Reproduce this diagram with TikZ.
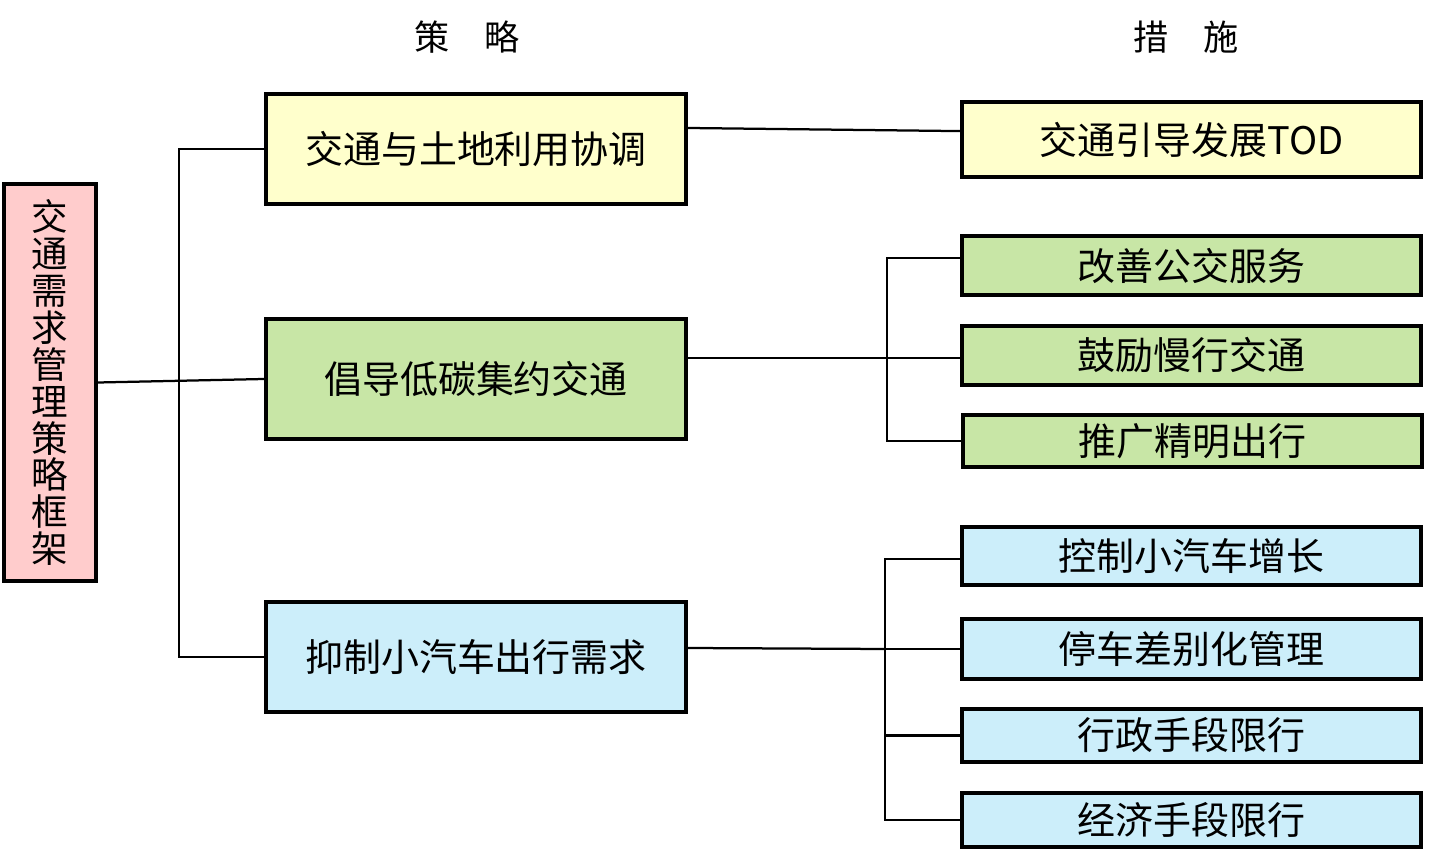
\documentclass[tikz,border=0pt]{standalone}
\usepackage{fontspec}
\setmainfont{Noto Sans CJK SC}
\definecolor{pinkbox}{HTML}{FFCCCC}
\definecolor{yellowbox}{HTML}{FFFFCC}
\definecolor{greenbox}{HTML}{C8E6A6}
\definecolor{bluebox}{HTML}{CCEEFA}
\begin{document}
\begin{tikzpicture}[x=0.025cm, y=-0.025cm,
  box/.style={draw, line width=2.9pt, inner sep=0pt, font=\fontsize{27pt}{30pt}\selectfont},
  strat/.style={box, minimum width=10.5cm},
  meas/.style={box, minimum width=11.475cm},
  link/.style={line width=1.6pt},
  head/.style={font=\fontsize{25pt}{25pt}\selectfont}]
\useasboundingbox (0,0) rectangle (1449,865);
\node [head] (hs) at (467,37) {策\hspace{1em}略};
\node [head] (hm) at (1186,37) {措\hspace{1em}施};
\node [box, fill=pinkbox, minimum width=2.3cm, minimum height=9.925cm, align=center,
  font=\fontsize{26pt}{26.3pt}\selectfont] (root) at (50,382.5) {交\\通\\需\\求\\管\\理\\策\\略\\框\\架};
\node [strat, fill=yellowbox, minimum height=2.75cm] (s1) at (476,149) {交通与土地利用协调};
\node [strat, fill=greenbox, minimum height=3cm] (s2) at (476,379) {倡导低碳集约交通};
\node [strat, fill=bluebox, minimum height=2.75cm] (s3) at (476,657) {抑制小汽车出行需求};
\node [meas, fill=yellowbox, minimum height=1.875cm] (m1) at (1191.5,139.5) {交通引导发展TOD};
\node [meas, fill=greenbox, minimum height=1.475cm] (m2) at (1191.5,265.5) {改善公交服务};
\node [meas, fill=greenbox, minimum height=1.475cm] (m3) at (1191.5,355.5) {鼓励慢行交通};
\node [meas, fill=greenbox, minimum height=1.3cm] (m4) at (1192.5,441) {推广精明出行};
\node [meas, fill=bluebox, minimum height=1.45cm] (m5) at (1191.5,556) {控制小汽车增长};
\node [meas, fill=bluebox, minimum height=1.5cm] (m6) at (1191.5,649) {停车差别化管理};
\node [meas, fill=bluebox, minimum height=1.325cm] (m7) at (1191.5,735.5) {行政手段限行};
\node [meas, fill=bluebox, minimum height=1.35cm] (m8) at (1191.5,820) {经济手段限行};
% strategy side
\draw [link] (s1.west) -- ++(-85,0) |- (s3.west);
\draw [link] (root.east) -- (s2.west);
% measure side
\draw [link] ([yshift=0.525cm]s1.east) -- ([yshift=0.21cm]m1.west);
\draw [link] ([yshift=0.18cm]m2.west) -- ++(-73,0) coordinate (gt) |- (m4.west);
\draw [link] ([yshift=-0.06cm]m3.west) -- ([yshift=-0.06cm]m3.west -| s2.east);
\draw [link] ([yshift=-0.07cm]m5.west) -- ++(-75,0) coordinate (bt) |- (m8.west);
\draw [link] (m6.west) -- (bt |- m6.west);
\draw [link] (m7.west) -- (bt |- m7.west);
\draw [link] ([yshift=0.225cm]s3.east) -- (bt |- m6.west);
\end{tikzpicture}
\end{document}
